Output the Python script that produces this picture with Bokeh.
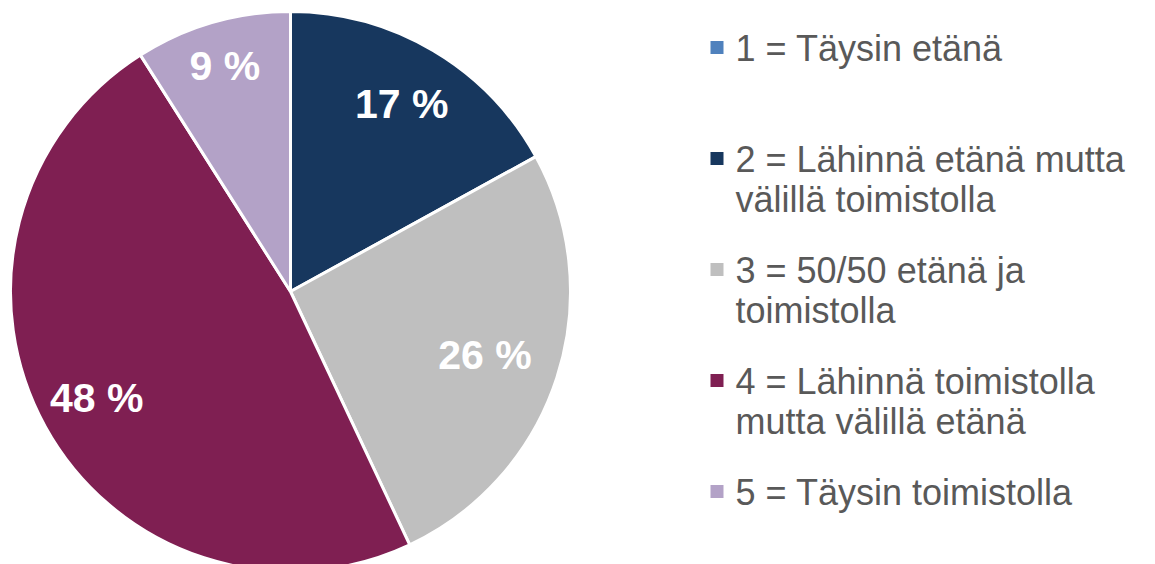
import numpy as np
from bokeh.plotting import figure
from bokeh.models import Range1d, ColumnDataSource
from bokeh.core.properties import value
from bokeh.embed import file_html
from bokeh.resources import INLINE

# ---- data ----
categories = [
    "1 = Täysin etänä",
    "2 = Lähinnä etänä mutta\nvälillä toimistolla",
    "3 = 50/50 etänä ja\ntoimistolla",
    "4 = Lähinnä toimistolla\nmutta välillä etänä",
    "5 = Täysin toimistolla",
]
shares = [0, 17, 26, 48, 9]
colors = ["#4F81BD", "#17375E", "#BFBFBF", "#7F1F52", "#B3A2C7"]

# ---- layout ----
W, H = 1139, 564
cx, cy, R = 290, H - 291, 280
label_rf = [0.78, 0.78, 0.73, 0.79, 0.84]

p = figure(width=W, height=H, x_range=Range1d(0, W), y_range=Range1d(0, H),
           output_backend="svg", toolbar_location=None, min_border=0)
p.axis.visible = False
p.grid.visible = False
p.outline_line_color = None
p.background_fill_color = "white"
p.border_fill_color = "white"

frac = np.array(shares, dtype=float) / sum(shares)
cum = np.concatenate([[0.0], np.cumsum(frac)])
start = np.pi / 2 - 2 * np.pi * cum[:-1]
end = np.pi / 2 - 2 * np.pi * cum[1:]
mid = (start + end) / 2

nz = [i for i, s in enumerate(shares) if s > 0]
wsrc = ColumnDataSource(dict(
    start=[start[i] for i in nz], end=[end[i] for i in nz],
    color=[colors[i] for i in nz]))
p.wedge(x=cx, y=cy, radius=R, start_angle="start", end_angle="end",
        direction="clock", fill_color="color", line_color="white",
        line_width=3, source=wsrc)

lsrc = ColumnDataSource(dict(
    x=[cx + label_rf[i] * R * np.cos(mid[i]) for i in nz],
    y=[cy + label_rf[i] * R * np.sin(mid[i]) for i in nz],
    t=[f"{shares[i]} %" for i in nz]))
p.text(x="x", y="y", text="t", source=lsrc, text_color="white",
       text_font=value("Liberation Sans"), text_font_style="bold",
       text_font_size="41px", text_align="center", text_baseline="middle")

# ---- legend ----
leg_top, leg_step, line_gap = H - 48, 111, 40
sq_x, txt_x = 716.5, 735
tx, ty, tt = [], [], []
sx, sy = [], []
for i, lab in enumerate(categories):
    yc = leg_top - i * leg_step
    sx.append(sq_x)
    sy.append(yc + 1)
    for j, line in enumerate(lab.split("\n")):
        tx.append(txt_x)
        ty.append(yc - j * line_gap)
        tt.append(line)
p.scatter(x=sx, y=sy, marker="square", size=13, fill_color=colors,
          line_color=None)
p.text(x=tx, y=ty, text=tt, text_color="#595959",
       text_font=value("Liberation Sans"), text_font_size="36px",
       text_align="left", text_baseline="middle")

open("out.html", "w").write(file_html(p, INLINE))
